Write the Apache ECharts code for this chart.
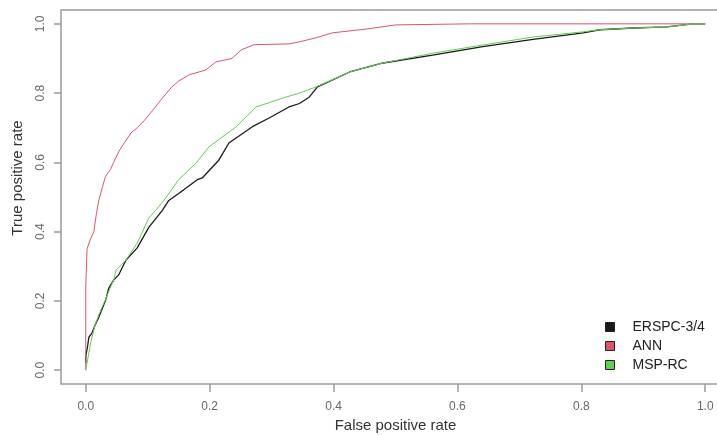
<!DOCTYPE html>
<html>
<head>
<meta charset="utf-8">
<script src="https://cdn.jsdelivr.net/npm/echarts@6/dist/echarts.min.js"></script>
<style>
  html, body { margin: 0; padding: 0; background: #fff; }
  #chart { width: 717px; height: 435px; }
</style>
</head>
<body>
<div id="chart"></div>
<script>
// ROC curves: [false positive rate, true positive rate]
const erspcRoc = [
  [0, 0.02], [0, 0.04], [0.003, 0.07], [0.005, 0.095], [0.01, 0.107], [0.015, 0.13],
  [0.021, 0.153], [0.032, 0.202], [0.037, 0.236], [0.045, 0.26], [0.053, 0.275],
  [0.065, 0.318], [0.083, 0.353], [0.102, 0.413], [0.123, 0.46], [0.134, 0.49],
  [0.15, 0.51], [0.18, 0.55], [0.188, 0.555], [0.215, 0.607], [0.231, 0.656],
  [0.269, 0.703], [0.296, 0.728], [0.328, 0.76], [0.345, 0.77], [0.361, 0.789],
  [0.374, 0.818], [0.426, 0.861], [0.48, 0.887], [0.56, 0.91], [0.641, 0.934],
  [0.722, 0.955], [0.803, 0.974], [0.83, 0.983], [0.884, 0.988], [0.938, 0.991],
  [0.98, 1.0], [1, 1]
];
const annRoc = [
  [0, 0], [0, 0.24], [0.002, 0.35], [0.008, 0.38], [0.013, 0.40], [0.017, 0.45],
  [0.021, 0.49], [0.027, 0.53], [0.032, 0.56], [0.040, 0.58], [0.045, 0.60],
  [0.053, 0.63], [0.058, 0.645], [0.073, 0.685], [0.083, 0.70], [0.094, 0.72],
  [0.108, 0.75], [0.121, 0.78], [0.139, 0.818], [0.150, 0.835], [0.167, 0.853],
  [0.194, 0.867], [0.21, 0.89], [0.236, 0.90], [0.251, 0.925], [0.272, 0.94],
  [0.328, 0.942], [0.345, 0.948], [0.372, 0.96], [0.398, 0.974], [0.453, 0.985],
  [0.50, 0.997], [0.62, 1.0], [1, 1]
];
const mspRcRoc = [
  [0, 0], [0.003, 0.03], [0.008, 0.08], [0.015, 0.13], [0.021, 0.16], [0.032, 0.205],
  [0.04, 0.24], [0.045, 0.26], [0.049, 0.289], [0.065, 0.318], [0.083, 0.367],
  [0.102, 0.44], [0.112, 0.46], [0.126, 0.49], [0.15, 0.55], [0.178, 0.598],
  [0.199, 0.645], [0.243, 0.703], [0.275, 0.76], [0.324, 0.789], [0.345, 0.80],
  [0.372, 0.818], [0.426, 0.861], [0.48, 0.887], [0.56, 0.915], [0.641, 0.939],
  [0.722, 0.962], [0.803, 0.977], [0.83, 0.983], [0.884, 0.988], [0.938, 0.991],
  [0.981, 1.0], [1, 1]
];

const seriesNames = ['ERSPC-3/4', 'ANN', 'MSP-RC'];
const seriesColors = ['#1a1a1a', '#DF536B', '#61D04F'];
const tickValues = [0, 0.2, 0.4, 0.6, 0.8, 1.0];

const FONT = 'Liberation Sans, Arial, sans-serif';
const chart = echarts.init(document.getElementById('chart'), null, { renderer: 'canvas' });

function line(name, data, color, width) {
  return {
    name: name,
    type: 'line',
    data: data,
    showSymbol: false,
    symbol: 'none',
    color: color,
    lineStyle: { color: color, width: width },
    itemStyle: { color: color },
    silent: true
  };
}

chart.setOption({
  animation: false,
  backgroundColor: '#ffffff',
  // plot box runs past the right edge of the canvas
  grid: {
    left: 61, top: 10, width: 669, height: 374,
    outerBoundsMode: 'none',
    containLabel: false,
    show: true, borderColor: '#9a9a9a', borderWidth: 1.5, backgroundColor: 'transparent'
  },
  legend: {
    data: seriesNames,
    orient: 'vertical',
    left: 605, top: 320,
    padding: 0,
    itemGap: 5,
    itemWidth: 9, itemHeight: 9,
    icon: 'rect',
    itemStyle: { borderColor: '#222', borderWidth: 1 },
    textStyle: { fontFamily: FONT, fontSize: 14, lineHeight: 14, color: '#222', padding: [0, 0, 0, 13] }
  },
  xAxis: {
    type: 'value', min: -0.04, max: 1.04,
    name: 'False positive rate', nameLocation: 'middle', nameGap: 34,
    nameTextStyle: { fontFamily: FONT, fontSize: 15, color: '#333' },
    axisLine: { show: false, onZero: false },
    splitLine: { show: false },
    axisTick: { show: true, customValues: tickValues, length: 8, lineStyle: { color: '#9a9a9a', width: 1.5 } },
    axisLabel: {
      customValues: tickValues, margin: 17,
      fontFamily: FONT, fontSize: 12, color: '#666',
      formatter: v => v.toFixed(1)
    }
  },
  yAxis: {
    type: 'value', min: -0.04, max: 1.04,
    name: 'True positive rate', nameLocation: 'middle', nameGap: 36,
    nameTextStyle: { fontFamily: FONT, fontSize: 15, color: '#333', padding: [0, 0, 0, 38] },
    axisLine: { show: false, onZero: false },
    splitLine: { show: false },
    axisTick: { show: true, customValues: tickValues, length: 7, lineStyle: { color: '#9a9a9a', width: 1.5 } },
    axisLabel: {
      customValues: tickValues, margin: 14, rotate: 90,
      fontFamily: FONT, fontSize: 12, color: '#666',
      formatter: v => v.toFixed(1)
    }
  },
  series: [
    line(seriesNames[0], erspcRoc, seriesColors[0], 1.3),
    line(seriesNames[1], annRoc, seriesColors[1], 1),
    line(seriesNames[2], mspRcRoc, seriesColors[2], 1)
  ]
});
</script>
</body>
</html>
